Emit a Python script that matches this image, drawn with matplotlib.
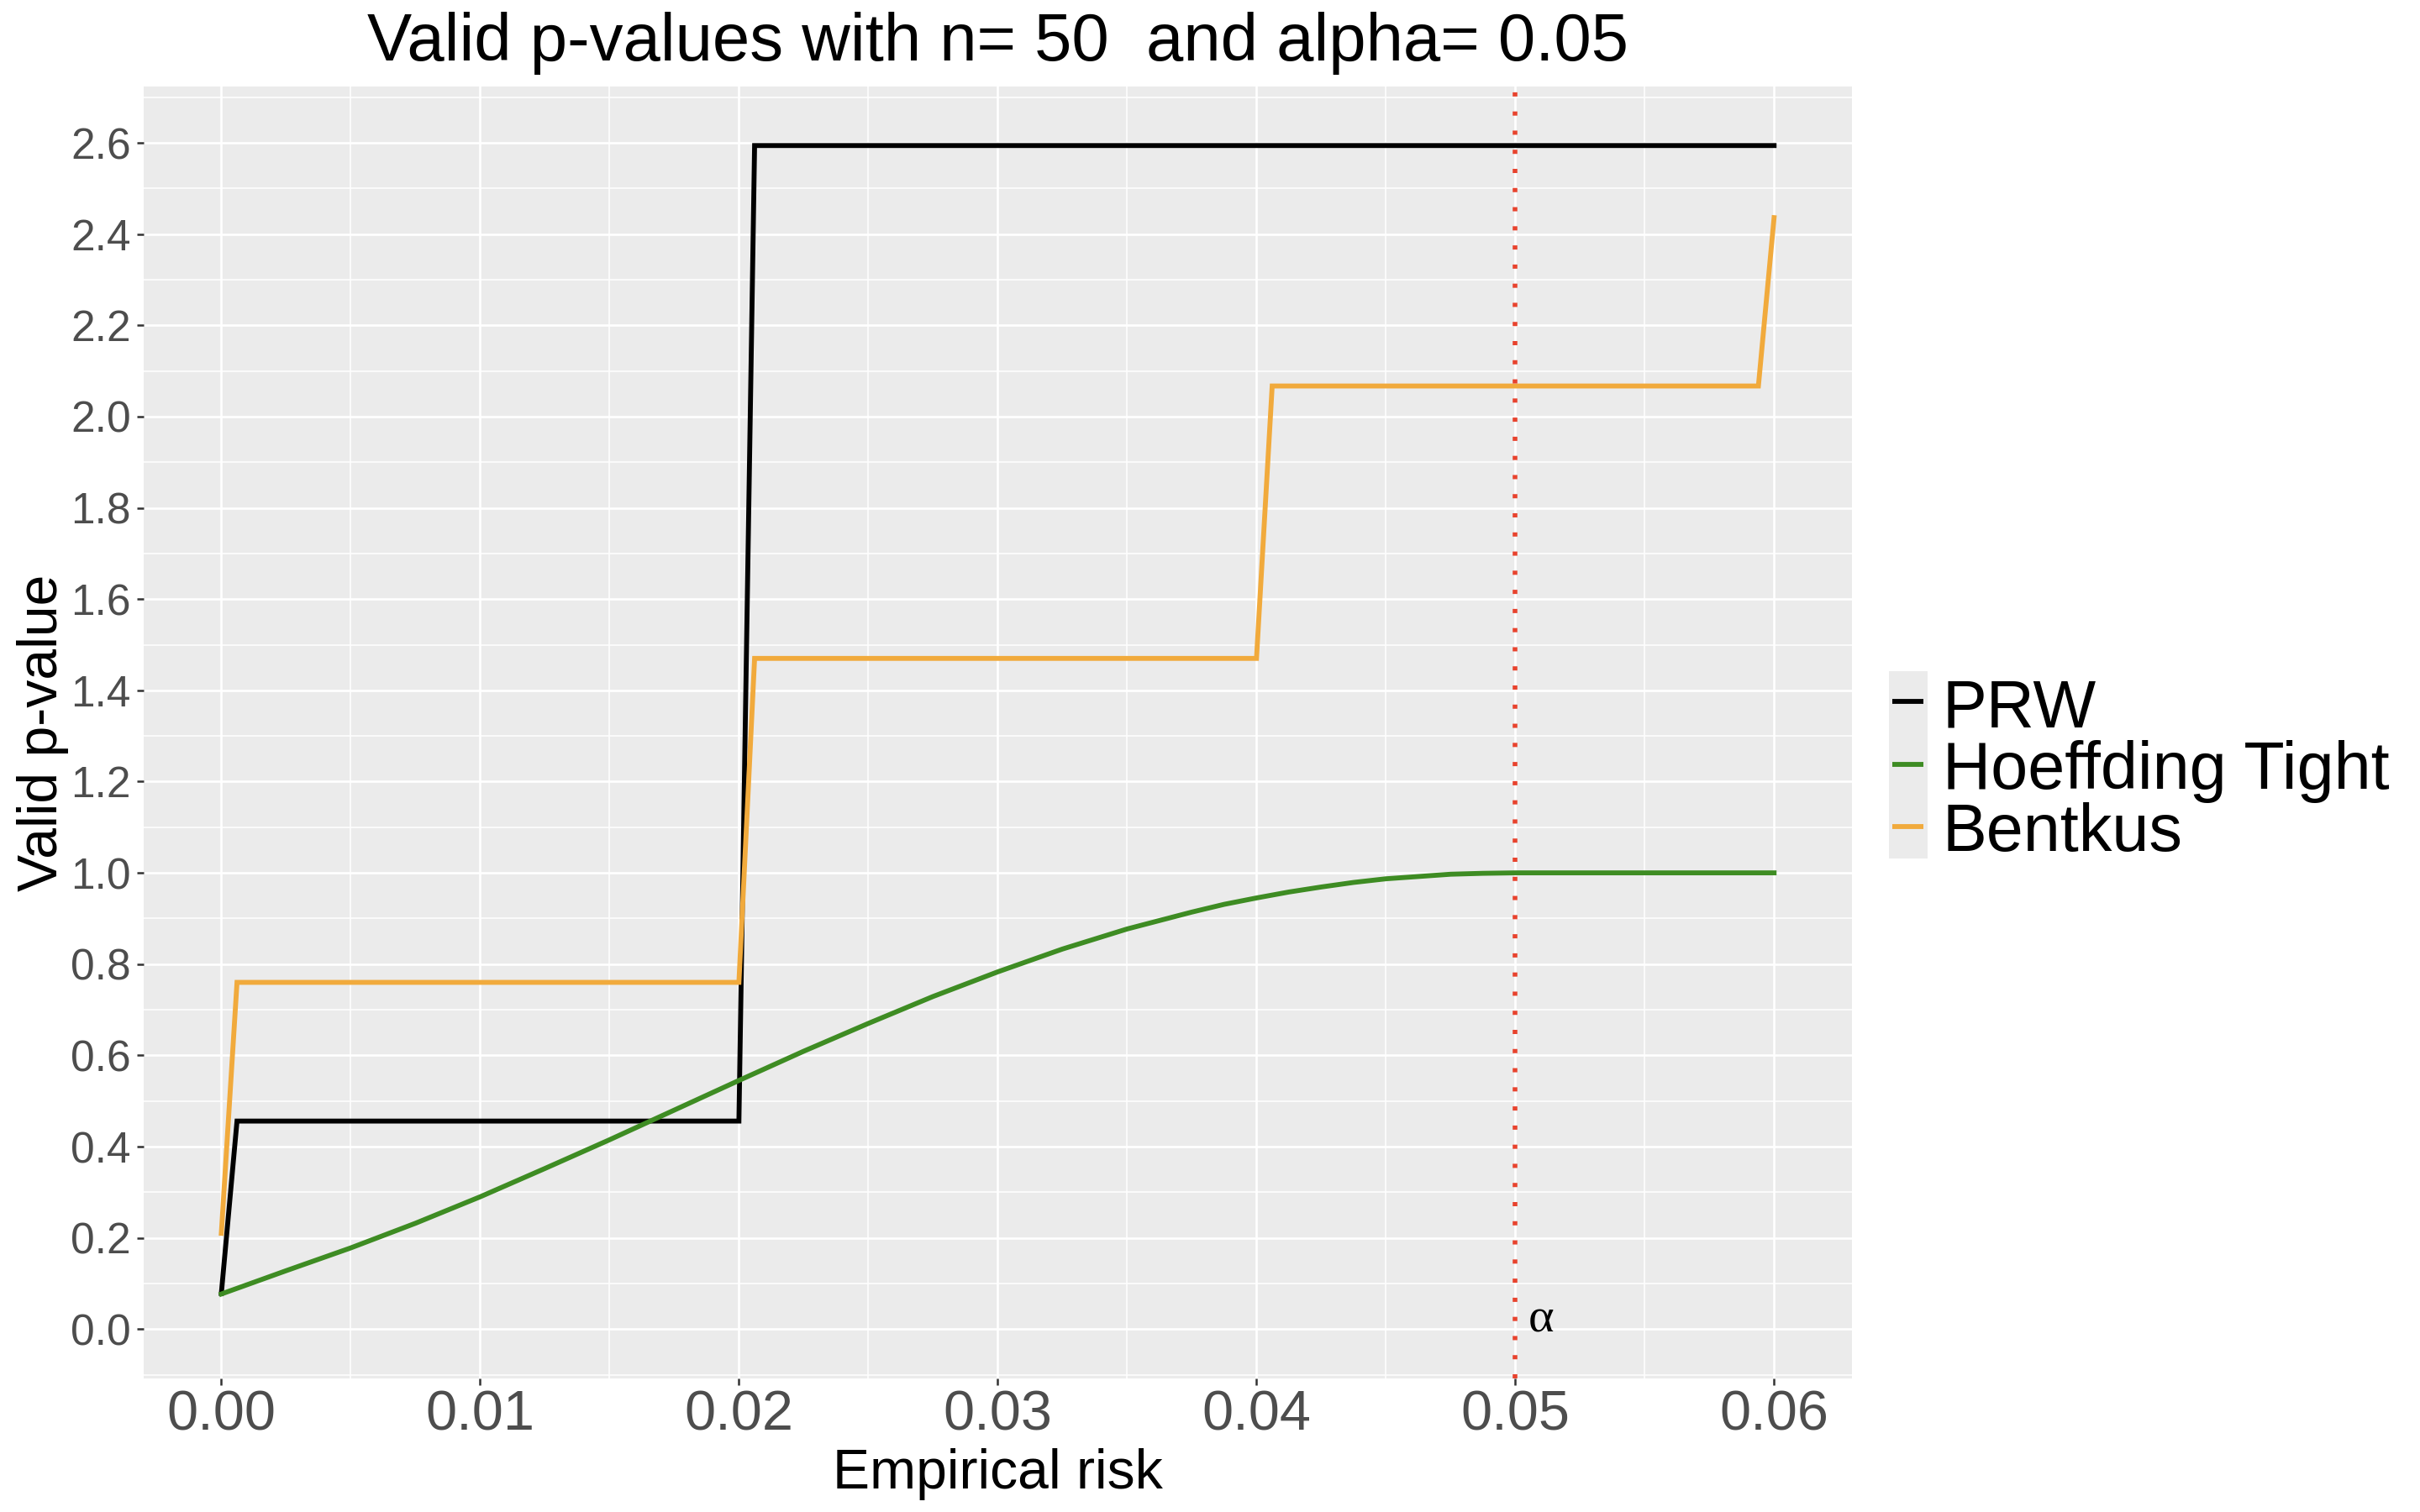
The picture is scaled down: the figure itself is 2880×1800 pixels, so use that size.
import matplotlib
matplotlib.use("Agg")
import matplotlib.pyplot as plt
from matplotlib.lines import Line2D
from matplotlib.patches import Rectangle

plt.rcParams['font.family'] = ['Liberation Sans', 'DejaVu Sans']

# ---------------- data ----------------
title = "Valid p-values with n= 50  and alpha= 0.05"
x_label = "Empirical risk"
y_label = "Valid p-value"
series_names = ["PRW", "Hoeffding Tight", "Bentkus"]

prw_x = [0.0, 0.000606, 0.02, 0.020606, 0.06]
prw_y = [0.078, 0.456, 0.456, 2.594, 2.594]

hoef_x = [0.0, 0.0025, 0.005, 0.0075, 0.01, 0.0125, 0.015, 0.0175, 0.02,
          0.0225, 0.025, 0.0275, 0.03, 0.0325, 0.035, 0.0375, 0.03875, 0.04,
          0.04125, 0.0425, 0.04375, 0.045, 0.04625, 0.0475, 0.04875, 0.05,
          0.055, 0.06]
hoef_y = [0.077, 0.128, 0.178, 0.232, 0.290, 0.352, 0.415, 0.480, 0.545,
          0.609, 0.670, 0.729, 0.783, 0.833, 0.877, 0.914, 0.931, 0.945,
          0.958, 0.969, 0.979, 0.987, 0.992, 0.997, 0.999, 1.0,
          1.0, 1.0]

bentkus_x = [0.0, 0.000606, 0.02, 0.020606, 0.04, 0.040606, 0.059394, 0.06]
bentkus_y = [0.21, 0.76, 0.76, 1.47, 1.47, 2.067, 2.067, 2.436]

alpha_level = 0.05
alpha_label = "α"
alpha_label_pos = (0.051, 0.02)

x_ticks = [0.00, 0.01, 0.02, 0.03, 0.04, 0.05, 0.06]
x_tick_labels = ["0.00", "0.01", "0.02", "0.03", "0.04", "0.05", "0.06"]
y_ticks = [0.0, 0.2, 0.4, 0.6, 0.8, 1.0, 1.2, 1.4, 1.6, 1.8, 2.0, 2.2, 2.4, 2.6]
y_tick_labels = ["0.0", "0.2", "0.4", "0.6", "0.8", "1.0", "1.2", "1.4",
                 "1.6", "1.8", "2.0", "2.2", "2.4", "2.6"]
x_minor = [0.005, 0.015, 0.025, 0.035, 0.045, 0.055]
y_minor = [-0.1, 0.1, 0.3, 0.5, 0.7, 0.9, 1.1, 1.3, 1.5, 1.7, 1.9, 2.1, 2.3, 2.5, 2.7]

# ---------------- style ----------------
col_prw = "#000000"
col_hoef = "#3E8C23"
col_bent = "#F1AA3C"
col_alpha = "#E8432E"
panel_bg = "#EBEBEB"
lw = 2.1

W, H = 2880, 1800
fig = plt.figure(figsize=(14.4, 9), dpi=200)
fig.patch.set_facecolor("white")

left, right, top, bottom = 171, 2203.7, 103.3, 1640.7
ax = fig.add_axes([left / W, 1 - bottom / H, (right - left) / W, (bottom - top) / H])
ax.set_facecolor(panel_bg)
for s in ax.spines.values():
    s.set_visible(False)

ax.set_xlim(-0.003, 0.063)
ax.set_ylim(-0.1075, 2.7228)

ax.set_xticks(x_ticks)
ax.set_xticklabels(x_tick_labels, fontsize=24, color="#4D4D4D")
ax.set_yticks(y_ticks)
ax.set_yticklabels(y_tick_labels, fontsize=18.5, color="#4D4D4D")
ax.set_xticks(x_minor, minor=True)
ax.set_yticks(y_minor, minor=True)
ax.tick_params(axis='both', which='major', length=2.9, width=0.9, color="#333333")
ax.tick_params(axis='x', which='major', pad=2.2)
ax.tick_params(axis='y', which='major', pad=2.5)
ax.tick_params(axis='both', which='minor', length=0)

ax.grid(True, which='major', color='white', linewidth=0.95)
ax.grid(True, which='minor', color='white', linewidth=0.55)
ax.set_axisbelow(True)

ax.plot(prw_x, prw_y, color=col_prw, lw=lw, solid_joinstyle='miter', zorder=3)
ax.plot(hoef_x, hoef_y, color=col_hoef, lw=lw, zorder=3)
ax.plot(bentkus_x, bentkus_y, color=col_bent, lw=lw, solid_joinstyle='miter', zorder=3)

ax.axvline(alpha_level, color=col_alpha, lw=2.0, linestyle=(0, (0.9, 3.2)),
           dash_capstyle='butt', zorder=4)
ax.text(alpha_label_pos[0], alpha_label_pos[1], alpha_label, ha='center', va='center',
        fontsize=21, color='black', family=['Liberation Serif', 'DejaVu Serif'], zorder=5)

# titles
cx = (left + right) / 2 / W
fig.text(cx, 1 - 71.7 / H, title, ha='center', va='baseline', fontsize=28.7, color='black')
fig.text(cx, 1 - 1771.7 / H, x_label, ha='center', va='baseline', fontsize=23.8, color='black')
fig.text(68 / W, 1 - 872 / H, y_label, ha='center', va='baseline', rotation=90,
         rotation_mode='anchor', fontsize=23.8, color='black')

# legend (ggplot style)
fig.add_artist(Rectangle((2247.7 / W, 1 - 1021.7 / H), 46.3 / W, 222.7 / H,
                         transform=fig.transFigure, facecolor=panel_bg, edgecolor='none'))
key_y = [835, 910, 984.3]
txt_base = [865, 939, 1013]
for name, c, ky, tb in zip(series_names, [col_prw, col_hoef, col_bent], key_y, txt_base):
    fig.add_artist(Line2D([2252 / W, 2289 / W], [1 - ky / H, 1 - ky / H],
                          transform=fig.transFigure, color=c, lw=lw,
                          solid_capstyle='butt'))
    fig.text(2312 / W, 1 - tb / H, name, ha='left', va='baseline', fontsize=28.5,
             color='black')

fig.savefig("out.png", dpi=200, facecolor="white")
